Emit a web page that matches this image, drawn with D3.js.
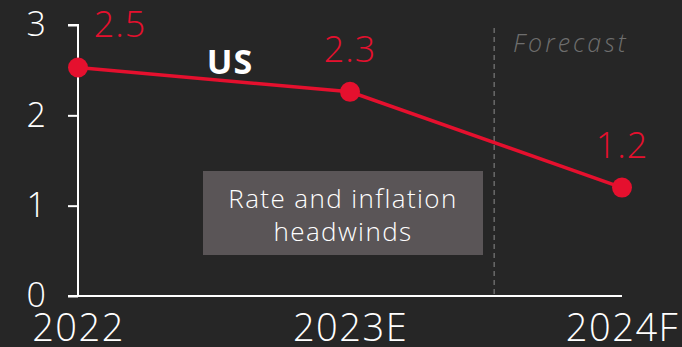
<!DOCTYPE html>
<html><head><meta charset="utf-8">
<script src="https://cdn.jsdelivr.net/npm/d3@7"></script>
<style>html,body{margin:0;padding:0;background:#262626;}svg{display:block;}</style>
</head><body>
<script>
const categories = ["2022", "2023E", "2024F"];
const values = [2.53, 2.26, 1.2];
const valueLabels = ["2.5", "2.3", "1.2"];
const yTicks = [0, 1, 2, 3];
const seriesName = "US";
const boxLines = ["Rate and inflation", "headwinds"];

const W = 682, H = 347;
const font = "'Open Sans', 'DejaVu Sans', sans-serif";
const red = "#e5102e";
const svg = d3.select("body").append("svg").attr("width", W).attr("height", H);
svg.append("rect").attr("width", W).attr("height", H).attr("fill", "#262626");

const x = d3.scalePoint().domain(categories).range([78, 622]);
const y = d3.scaleLinear().domain([0, 3]).range([296, 25]);

// forecast divider
const divX = x("2023E") + (x("2024F") - x("2023E")) * 0.53;
svg.append("line").attr("x1", divX).attr("x2", divX).attr("y1", 28).attr("y2", y(0))
  .attr("stroke", "#7a7a7a").attr("stroke-width", 1.2).attr("stroke-dasharray", "5,4");
svg.append("text").attr("x", 513).attr("y", 52).text("Forecast")
  .attr("font-family", font).attr("font-style", "italic").attr("font-weight", 300)
  .attr("font-size", 25).attr("letter-spacing", 3).attr("fill", "#6e6e6e");

// y axis
const yAxis = svg.append("g").attr("transform", `translate(${x(categories[0])},0)`)
  .call(d3.axisLeft(y).tickValues(yTicks).tickFormat(d3.format("d")).tickSize(10).tickPadding(22));
yAxis.select(".domain").attr("stroke", "#fff").attr("stroke-width", 2).attr("d", `M-10,${y(3)}H0V${y(0)}`);
yAxis.selectAll(".tick line").attr("stroke", "#fff").attr("stroke-width", 2);
yAxis.selectAll(".tick text").attr("fill", "#fff").attr("font-family", font).attr("font-weight", 300).attr("font-size", 34);

// x axis
const xAxis = svg.append("g").attr("transform", `translate(0,${y(0)})`)
  .call(d3.axisBottom(x).tickSize(0).tickPadding(18));
xAxis.select(".domain").attr("stroke", "#fff").attr("stroke-width", 2).attr("d", `M${x(categories[0]) - 10},0H${x(categories[2])}`);
xAxis.selectAll(".tick text").attr("fill", "#fff").attr("font-family", font).attr("font-weight", 300)
  .attr("font-size", 38).attr("letter-spacing", 1.5);

// box
const bx = 203, bw = 280, by = 171, bh = 84;
svg.append("rect").attr("x", bx).attr("y", by).attr("width", bw).attr("height", bh).attr("fill", "#5a5557");
svg.append("text").attr("x", bx + bw / 2).attr("text-anchor", "middle")
  .attr("font-family", font).attr("font-weight", 300).attr("font-size", 26).attr("letter-spacing", 1.4).attr("fill", "#fff")
  .selectAll("tspan").data(boxLines).join("tspan")
  .attr("x", bx + bw / 2).attr("y", (d, i) => 208 + i * 33).text(d => d);

// line
const data = categories.map((c, i) => ({c, v: values[i], l: valueLabels[i]}));
svg.append("path").datum(data)
  .attr("d", d3.line().x(d => x(d.c)).y(d => y(d.v)))
  .attr("fill", "none").attr("stroke", red).attr("stroke-width", 3.5);
svg.selectAll("circle.pt").data(data).join("circle").attr("class", "pt")
  .attr("cx", d => x(d.c)).attr("cy", d => y(d.v)).attr("r", 10).attr("fill", red);

const lblDx = [42, 0, 0];
svg.selectAll("text.val").data(data).join("text").attr("class", "val")
  .attr("x", (d, i) => x(d.c) + lblDx[i]).attr("y", d => y(d.v) - 30)
  .attr("text-anchor", "middle").attr("font-family", font).attr("font-weight", 300)
  .attr("font-size", 36).attr("letter-spacing", 1).attr("fill", red).text(d => d.l);

svg.append("text").attr("x", 230).attr("y", 74).attr("text-anchor", "middle")
  .attr("font-family", font).attr("font-weight", 700).attr("font-size", 34).attr("letter-spacing", 1).attr("fill", "#fff").text(seriesName);
</script>
</body></html>
